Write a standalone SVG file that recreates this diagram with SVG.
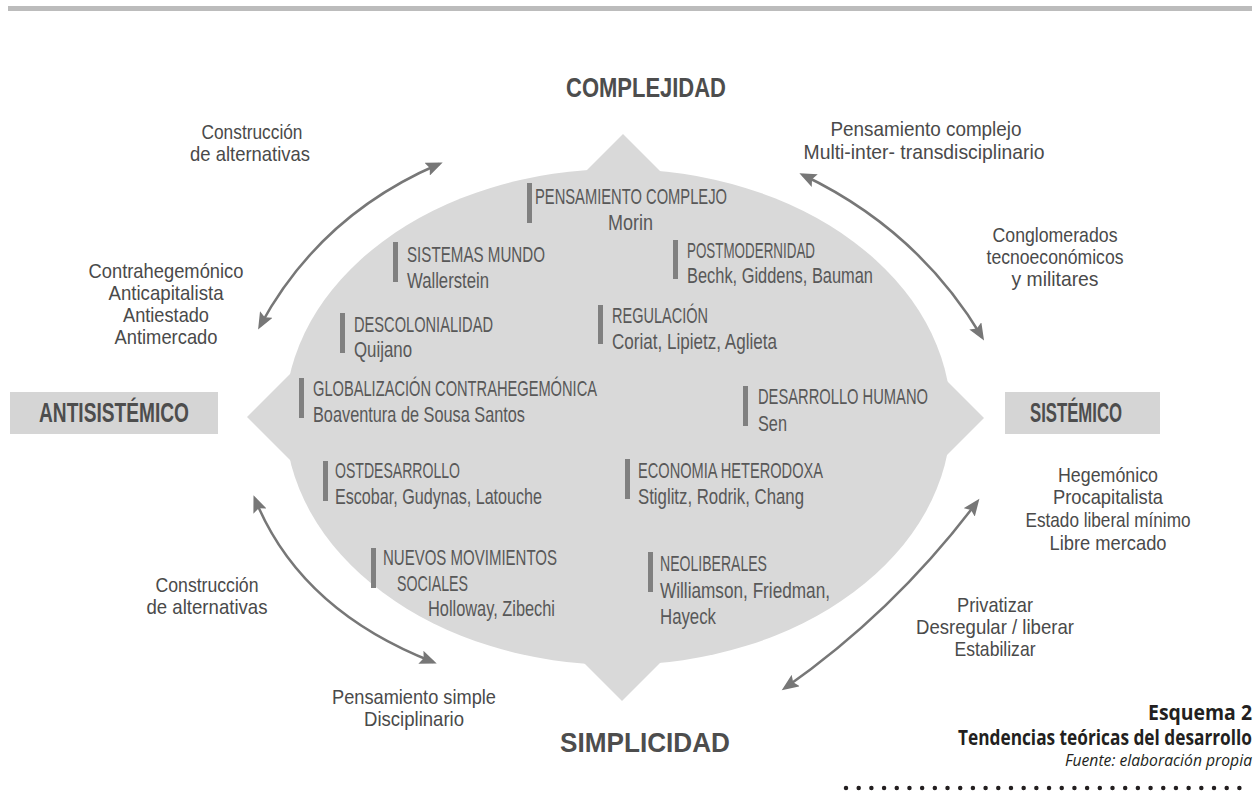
<svg xmlns="http://www.w3.org/2000/svg" width="1260" height="805" viewBox="0 0 1260 805">
<defs>
<style>
.in{font-family:"Liberation Sans",Arial,sans-serif;font-size:21.5px;fill:#585858}
.out{font-family:"Liberation Sans",Arial,sans-serif;font-size:21px;fill:#4a4a4a;text-anchor:middle}
.big{font-family:"Liberation Sans",Arial,sans-serif;font-size:28px;font-weight:bold;fill:#4d4d4d}
.cap{font-family:"Open Sans","Liberation Sans",Arial,sans-serif;fill:#231f20;text-anchor:end}
.bar{fill:#808080}
.box{fill:#d5d5d5}
.arr{fill:none;stroke:#777;stroke-width:2.5;marker-start:url(#ah);marker-end:url(#ah)}
</style>
<marker id="ah" markerUnits="userSpaceOnUse" markerWidth="18" markerHeight="14" refX="13" refY="7" orient="auto-start-reverse">
<path d="M0,0 L17,7 L0,14 L3,7 z" fill="#777"/>
</marker>
</defs>
<rect width="1260" height="805" fill="#ffffff"/>
<rect x="8" y="6" width="1244" height="5" fill="#bcbcbc"/>

<g id="shape" fill="#d9d9d9">
<ellipse cx="618" cy="417" rx="333" ry="248"/>
<polygon points="623,134 583,174 623,214 663,174"/>
<polygon points="622,701 582,661 622,621 662,661"/>
<polygon points="247,417 296,368 345,368 345,466 296,466"/>
<polygon points="984,418 940,374 895,374 895,462 940,462"/>
</g>

<g id="complejidad"><text class="big" x="646" y="97" text-anchor="middle" textLength="160" lengthAdjust="spacingAndGlyphs">COMPLEJIDAD</text></g>
<g id="simplicidad"><text class="big" x="645" y="752" text-anchor="middle" textLength="170" lengthAdjust="spacingAndGlyphs">SIMPLICIDAD</text></g>
<g id="antisistemico"><rect class="box" x="10" y="392" width="208" height="42"/><text class="big" x="114" y="422" text-anchor="middle" font-size="26" textLength="150" lengthAdjust="spacingAndGlyphs">ANTISISTÉMICO</text></g>
<g id="sistemico"><rect class="box" x="1005" y="392" width="155" height="42"/><text class="big" x="1030" y="422" font-size="26" textLength="92" lengthAdjust="spacingAndGlyphs">SISTÉMICO</text></g>

<g id="n-pensamiento-complejo"><rect class="bar" x="527" y="183" width="5" height="40"/>
<text class="in" x="535" y="204" textLength="192" lengthAdjust="spacingAndGlyphs">PENSAMIENTO COMPLEJO</text>
<text class="in" x="608" y="230" textLength="45" lengthAdjust="spacingAndGlyphs">Morin</text></g>
<g id="n-sistemas-mundo"><rect class="bar" x="393" y="242" width="5" height="40"/>
<text class="in" x="407" y="262" textLength="138" lengthAdjust="spacingAndGlyphs">SISTEMAS MUNDO</text>
<text class="in" x="407" y="288" textLength="82" lengthAdjust="spacingAndGlyphs">Wallerstein</text></g>
<g id="n-postmodernidad"><rect class="bar" x="673" y="240" width="5" height="39"/>
<text class="in" x="687" y="258" textLength="128" lengthAdjust="spacingAndGlyphs">POSTMODERNIDAD</text>
<text class="in" x="687" y="283" textLength="186" lengthAdjust="spacingAndGlyphs">Bechk, Giddens, Bauman</text></g>
<g id="n-descolonialidad"><rect class="bar" x="340" y="313" width="5" height="40"/>
<text class="in" x="354" y="332" textLength="139" lengthAdjust="spacingAndGlyphs">DESCOLONIALIDAD</text>
<text class="in" x="354" y="357" textLength="58" lengthAdjust="spacingAndGlyphs">Quijano</text></g>
<g id="n-regulacion"><rect class="bar" x="598" y="305" width="5" height="39"/>
<text class="in" x="612" y="323" textLength="96" lengthAdjust="spacingAndGlyphs">REGULACIÓN</text>
<text class="in" x="612" y="349" textLength="165" lengthAdjust="spacingAndGlyphs">Coriat, Lipietz, Aglieta</text></g>
<g id="n-globalizacion"><rect class="bar" x="299" y="378" width="5" height="40"/>
<text class="in" x="313" y="396" textLength="284" lengthAdjust="spacingAndGlyphs">GLOBALIZACIÓN CONTRAHEGEMÓNICA</text>
<text class="in" x="313" y="422" textLength="212" lengthAdjust="spacingAndGlyphs">Boaventura de Sousa Santos</text></g>
<g id="n-desarrollo-humano"><rect class="bar" x="743" y="386" width="5" height="40"/>
<text class="in" x="758" y="404" textLength="170" lengthAdjust="spacingAndGlyphs">DESARROLLO HUMANO</text>
<text class="in" x="758" y="431" textLength="29" lengthAdjust="spacingAndGlyphs">Sen</text></g>
<g id="n-ostdesarrollo"><rect class="bar" x="323" y="461" width="5" height="40"/>
<text class="in" x="335" y="478" textLength="125" lengthAdjust="spacingAndGlyphs">OSTDESARROLLO</text>
<text class="in" x="335" y="504" textLength="207" lengthAdjust="spacingAndGlyphs">Escobar, Gudynas, Latouche</text></g>
<g id="n-economia-heterodoxa"><rect class="bar" x="625" y="459" width="5" height="40"/>
<text class="in" x="638" y="478" textLength="185" lengthAdjust="spacingAndGlyphs">ECONOMIA HETERODOXA</text>
<text class="in" x="638" y="504" textLength="166" lengthAdjust="spacingAndGlyphs">Stiglitz, Rodrik, Chang</text></g>
<g id="n-nuevos-movimientos"><rect class="bar" x="371" y="548" width="5" height="40"/>
<text class="in" x="383" y="565" textLength="174" lengthAdjust="spacingAndGlyphs">NUEVOS MOVIMIENTOS</text>
<text class="in" x="397" y="591" textLength="71" lengthAdjust="spacingAndGlyphs">SOCIALES</text>
<text class="in" x="428" y="616" textLength="127" lengthAdjust="spacingAndGlyphs">Holloway, Zibechi</text></g>
<g id="n-neoliberales"><rect class="bar" x="648" y="552" width="5" height="40"/>
<text class="in" x="660" y="571" textLength="107" lengthAdjust="spacingAndGlyphs">NEOLIBERALES</text>
<text class="in" x="660" y="598" textLength="170" lengthAdjust="spacingAndGlyphs">Williamson, Friedman,</text>
<text class="in" x="660" y="624" textLength="56" lengthAdjust="spacingAndGlyphs">Hayeck</text></g>

<g id="l-construccion-top">
<text class="out" x="252" y="139" textLength="101" lengthAdjust="spacingAndGlyphs">Construcción</text>
<text class="out" x="250" y="161" textLength="120" lengthAdjust="spacingAndGlyphs">de alternativas</text></g>
<g id="l-contrahegemonico">
<text class="out" x="166" y="278" textLength="155" lengthAdjust="spacingAndGlyphs">Contrahegemónico</text>
<text class="out" x="166" y="300" textLength="115" lengthAdjust="spacingAndGlyphs">Anticapitalista</text>
<text class="out" x="166" y="322" textLength="86" lengthAdjust="spacingAndGlyphs">Antiestado</text>
<text class="out" x="166" y="344" textLength="103" lengthAdjust="spacingAndGlyphs">Antimercado</text></g>
<g id="l-pensamiento-complejo">
<text class="out" x="926" y="136" textLength="191" lengthAdjust="spacingAndGlyphs">Pensamiento complejo</text>
<text class="out" x="924" y="159" textLength="241" lengthAdjust="spacingAndGlyphs">Multi-inter- transdisciplinario</text></g>
<g id="l-conglomerados">
<text class="out" x="1055" y="242" textLength="125" lengthAdjust="spacingAndGlyphs">Conglomerados</text>
<text class="out" x="1055" y="264" textLength="137" lengthAdjust="spacingAndGlyphs">tecnoeconómicos</text>
<text class="out" x="1055" y="286" textLength="87" lengthAdjust="spacingAndGlyphs">y militares</text></g>
<g id="l-hegemonico">
<text class="out" x="1108" y="482" textLength="100" lengthAdjust="spacingAndGlyphs">Hegemónico</text>
<text class="out" x="1108" y="504" textLength="110" lengthAdjust="spacingAndGlyphs">Procapitalista</text>
<text class="out" x="1108" y="527" textLength="165" lengthAdjust="spacingAndGlyphs">Estado liberal mínimo</text>
<text class="out" x="1108" y="550" textLength="117" lengthAdjust="spacingAndGlyphs">Libre mercado</text></g>
<g id="l-privatizar">
<text class="out" x="995" y="612" textLength="76" lengthAdjust="spacingAndGlyphs">Privatizar</text>
<text class="out" x="995" y="634" textLength="158" lengthAdjust="spacingAndGlyphs">Desregular / liberar</text>
<text class="out" x="995" y="656" textLength="81" lengthAdjust="spacingAndGlyphs">Estabilizar</text></g>
<g id="l-construccion-bottom">
<text class="out" x="207" y="592" textLength="103" lengthAdjust="spacingAndGlyphs">Construcción</text>
<text class="out" x="207" y="614" textLength="121" lengthAdjust="spacingAndGlyphs">de alternativas</text></g>
<g id="l-pensamiento-simple">
<text class="out" x="414" y="704" textLength="164" lengthAdjust="spacingAndGlyphs">Pensamiento simple</text>
<text class="out" x="414" y="726" textLength="100" lengthAdjust="spacingAndGlyphs">Disciplinario</text></g>

<g id="connectors">
<path class="arr" d="M260,326 Q320,215 439,164"/>
<path class="arr" d="M803,175 Q918,230 982,337"/>
<path class="arr" d="M255,499 Q300,610 433,662"/>
<path class="arr" d="M977,502 Q895,611 785,688"/>
</g>

<g id="caption">
<text class="cap" x="1252" y="720" font-size="22" font-weight="bold" textLength="104" lengthAdjust="spacingAndGlyphs">Esquema 2</text>
<text class="cap" x="1252" y="745" font-size="22" font-weight="bold" textLength="294" lengthAdjust="spacingAndGlyphs">Tendencias teóricas del desarrollo</text>
<text class="cap" x="1252" y="766" font-size="16.5" font-style="italic" textLength="187" lengthAdjust="spacingAndGlyphs">Fuente: elaboración propia</text>
<line x1="846" y1="788" x2="1252" y2="788" stroke="#231f20" stroke-width="4.5" stroke-linecap="round" stroke-dasharray="0 12.69"/>
</g>
</svg>
